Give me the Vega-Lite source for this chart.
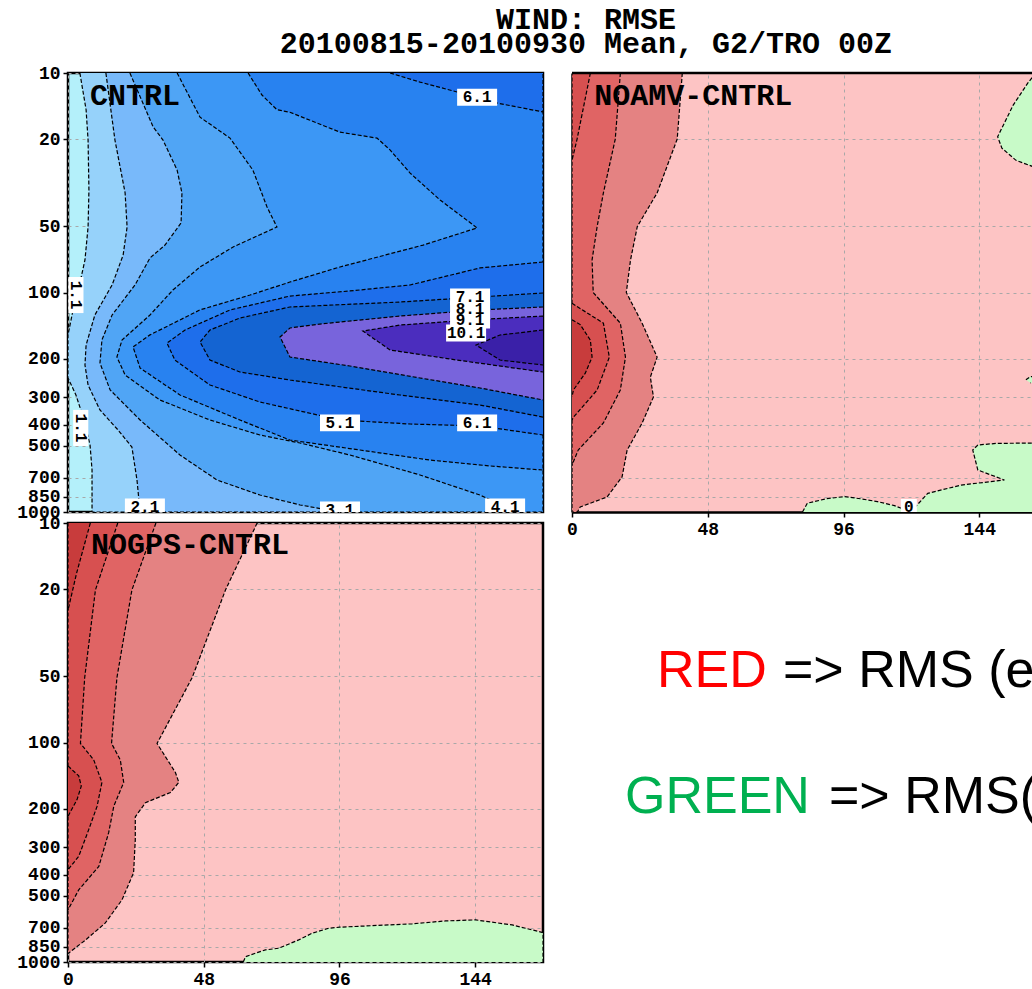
{
"$schema":"https://vega.github.io/schema/vega-lite/v6.json",
"padding":{"left":15,"top":4,"right":0,"bottom":0},
"background":"white",
"title":{"text":["WIND: RMSE","20100815-20100930 Mean, G2/TRO 00Z"],"font":"Liberation Mono","fontWeight":"bold","fontSize":30,"lineHeight":24,"anchor":"middle","color":"black","dx":61,"offset":4},
"config":{
 "axis":{"labelFont":"Liberation Mono","labelFontWeight":"bold","labelFontSize":18,"labelColor":"black","tickColor":"black","tickSize":5,"tickWidth":1.5,"labelPadding":3,"gridColor":"#a8a8a8","gridDash":[3,4],"gridWidth":1,"zindex":1,"labelFlush":false,"labelOverlap":false,"domainColor":"black","domainWidth":2.5}
},
"datasets":{
"cn":[
{"pc":"p01","lev":"1.1","i":0,"h":4.2,"p":10},{"pc":"p01","lev":"1.1","i":1,"h":6.4,"p":14.7},{"pc":"p01","lev":"1.1","i":2,"h":7.1,"p":20.2},{"pc":"p01","lev":"1.1","i":3,"h":7.4,"p":34.1},{"pc":"p01","lev":"1.1","i":4,"h":7.1,"p":50.3},{"pc":"p01","lev":"1.1","i":5,"h":6.0,"p":71.1},{"pc":"p01","lev":"1.1","i":6,"h":4.2,"p":90.5},{"pc":"p01","lev":"1.1","i":7,"h":1.8,"p":120},{"pc":"p01","lev":"1.1","i":8,"h":0,"p":156},{"pc":"p01","lev":"1.1","i":9,"h":0,"p":245},{"pc":"p01","lev":"1.1","i":10,"h":2.8,"p":293},{"pc":"p01","lev":"1.1","i":11,"h":5.7,"p":381},{"pc":"p01","lev":"1.1","i":12,"h":7.8,"p":496},{"pc":"p01","lev":"1.1","i":13,"h":8.5,"p":644},{"pc":"p01","lev":"1.1","i":14,"h":8.5,"p":1000},{"pc":"p01","lev":"1.1","i":15,"h":168,"p":1000},{"pc":"p01","lev":"1.1","i":16,"h":168,"p":10},
{"pc":"p02","lev":"2.1","i":0,"h":13.4,"p":10},{"pc":"p02","lev":"2.1","i":1,"h":16.6,"p":20.2},{"pc":"p02","lev":"2.1","i":2,"h":20.2,"p":35.2},{"pc":"p02","lev":"2.1","i":3,"h":20.9,"p":50.3},{"pc":"p02","lev":"2.1","i":4,"h":19.5,"p":67.5},{"pc":"p02","lev":"2.1","i":5,"h":15.6,"p":92.4},{"pc":"p02","lev":"2.1","i":6,"h":9.5,"p":126.6},{"pc":"p02","lev":"2.1","i":7,"h":6.4,"p":173.5},{"pc":"p02","lev":"2.1","i":8,"h":6.0,"p":214},{"pc":"p02","lev":"2.1","i":9,"h":7.1,"p":264},{"pc":"p02","lev":"2.1","i":10,"h":11.3,"p":343},{"pc":"p02","lev":"2.1","i":11,"h":17.7,"p":423},{"pc":"p02","lev":"2.1","i":12,"h":22.6,"p":506},{"pc":"p02","lev":"2.1","i":13,"h":24.4,"p":715},{"pc":"p02","lev":"2.1","i":14,"h":25.5,"p":1000},{"pc":"p02","lev":"2.1","i":15,"h":168,"p":1000},{"pc":"p02","lev":"2.1","i":16,"h":168,"p":10},
{"pc":"p03","lev":"3.1","i":0,"h":21.9,"p":10},{"pc":"p03","lev":"3.1","i":1,"h":30.1,"p":17.6},{"pc":"p03","lev":"3.1","i":2,"h":33.6,"p":20.2},{"pc":"p03","lev":"3.1","i":3,"h":38.6,"p":27.7},{"pc":"p03","lev":"3.1","i":4,"h":40.3,"p":35.2},{"pc":"p03","lev":"3.1","i":5,"h":40.0,"p":48.2},{"pc":"p03","lev":"3.1","i":6,"h":34.3,"p":60.8},{"pc":"p03","lev":"3.1","i":7,"h":29.0,"p":69.6},{"pc":"p03","lev":"3.1","i":8,"h":23.7,"p":92.4},{"pc":"p03","lev":"3.1","i":9,"h":15.6,"p":126.6},{"pc":"p03","lev":"3.1","i":10,"h":12.0,"p":164.6},{"pc":"p03","lev":"3.1","i":11,"h":11.3,"p":209.6},{"pc":"p03","lev":"3.1","i":12,"h":14.9,"p":278},{"pc":"p03","lev":"3.1","i":13,"h":25.5,"p":381},{"pc":"p03","lev":"3.1","i":14,"h":39.6,"p":550},{"pc":"p03","lev":"3.1","i":15,"h":52.7,"p":715},{"pc":"p03","lev":"3.1","i":16,"h":67.9,"p":837},{"pc":"p03","lev":"3.1","i":17,"h":82.1,"p":929},{"pc":"p03","lev":"3.1","i":18,"h":96.2,"p":1000},{"pc":"p03","lev":"3.1","i":19,"h":168,"p":1000},{"pc":"p03","lev":"3.1","i":20,"h":168,"p":10},
{"pc":"p04","lev":"4.1","i":0,"h":38.6,"p":10},{"pc":"p04","lev":"4.1","i":1,"h":46.7,"p":15.9},{"pc":"p04","lev":"4.1","i":2,"h":57.3,"p":19.8},{"pc":"p04","lev":"4.1","i":3,"h":65.4,"p":27.7},{"pc":"p04","lev":"4.1","i":4,"h":70.4,"p":40.8},{"pc":"p04","lev":"4.1","i":5,"h":73.9,"p":50.3},{"pc":"p04","lev":"4.1","i":6,"h":58.4,"p":62},{"pc":"p04","lev":"4.1","i":7,"h":46.7,"p":76.5},{"pc":"p04","lev":"4.1","i":8,"h":37.1,"p":97.4},{"pc":"p04","lev":"4.1","i":9,"h":29.0,"p":126.6},{"pc":"p04","lev":"4.1","i":10,"h":19.1,"p":164.6},{"pc":"p04","lev":"4.1","i":11,"h":17.3,"p":196.8},{"pc":"p04","lev":"4.1","i":12,"h":20.2,"p":237.6},{"pc":"p04","lev":"4.1","i":13,"h":32.5,"p":308.8},{"pc":"p04","lev":"4.1","i":14,"h":50.2,"p":381},{"pc":"p04","lev":"4.1","i":15,"h":67.9,"p":446},{"pc":"p04","lev":"4.1","i":16,"h":82.1,"p":485},{"pc":"p04","lev":"4.1","i":17,"h":99.7,"p":550},{"pc":"p04","lev":"4.1","i":18,"h":124.5,"p":678},{"pc":"p04","lev":"4.1","i":19,"h":145.7,"p":837},{"pc":"p04","lev":"4.1","i":20,"h":154.9,"p":949},{"pc":"p04","lev":"4.1","i":21,"h":159.9,"p":1000},{"pc":"p04","lev":"4.1","i":22,"h":168,"p":1000},{"pc":"p04","lev":"4.1","i":23,"h":168,"p":10},
{"pc":"p05","lev":"5.1","i":0,"h":63.7,"p":10},{"pc":"p05","lev":"5.1","i":1,"h":68.6,"p":12.6},{"pc":"p05","lev":"5.1","i":2,"h":73.9,"p":14.7},{"pc":"p05","lev":"5.1","i":3,"h":78.5,"p":15.1},{"pc":"p05","lev":"5.1","i":4,"h":96.2,"p":18.6},{"pc":"p05","lev":"5.1","i":5,"h":109.3,"p":19.8},{"pc":"p05","lev":"5.1","i":6,"h":113.9,"p":22.4},{"pc":"p05","lev":"5.1","i":7,"h":121.0,"p":28.6},{"pc":"p05","lev":"5.1","i":8,"h":131.6,"p":37.9},{"pc":"p05","lev":"5.1","i":9,"h":144.7,"p":50.8},{"pc":"p05","lev":"5.1","i":10,"h":125.6,"p":60.8},{"pc":"p05","lev":"5.1","i":11,"h":96.2,"p":76.5},{"pc":"p05","lev":"5.1","i":12,"h":78.5,"p":89.6},{"pc":"p05","lev":"5.1","i":13,"h":64.4,"p":102.7},{"pc":"p05","lev":"5.1","i":14,"h":46.7,"p":120},{"pc":"p05","lev":"5.1","i":15,"h":29.0,"p":156},{"pc":"p05","lev":"5.1","i":16,"h":23.0,"p":177},{"pc":"p05","lev":"5.1","i":17,"h":25.5,"p":221},{"pc":"p05","lev":"5.1","i":18,"h":39.6,"p":293},{"pc":"p05","lev":"5.1","i":19,"h":60.8,"p":381},{"pc":"p05","lev":"5.1","i":20,"h":78.5,"p":470},{"pc":"p05","lev":"5.1","i":21,"h":103.3,"p":522},{"pc":"p05","lev":"5.1","i":22,"h":128.0,"p":580},{"pc":"p05","lev":"5.1","i":23,"h":149.3,"p":617},{"pc":"p05","lev":"5.1","i":24,"h":168,"p":644},{"pc":"p05","lev":"5.1","i":25,"h":168,"p":10},
{"pc":"p06","lev":"6.1","i":0,"h":113.9,"p":10},{"pc":"p06","lev":"6.1","i":1,"h":124.5,"p":11.0},{"pc":"p06","lev":"6.1","i":2,"h":137.6,"p":12.2},{"pc":"p06","lev":"6.1","i":3,"h":151.7,"p":13.7},{"pc":"p06","lev":"6.1","i":4,"h":168,"p":15.05},{"pc":"p06","lev":"6.1","i":5,"h":168,"p":10},
{"pc":"p07","lev":"6.1","i":0,"h":168,"p":72.6},{"pc":"p07","lev":"6.1","i":1,"h":145.7,"p":77.3},{"pc":"p07","lev":"6.1","i":2,"h":121.0,"p":92.4},{"pc":"p07","lev":"6.1","i":3,"h":99.7,"p":98.4},{"pc":"p07","lev":"6.1","i":4,"h":78.5,"p":103.8},{"pc":"p07","lev":"6.1","i":5,"h":57.3,"p":120.1},{"pc":"p07","lev":"6.1","i":6,"h":41.4,"p":148.2},{"pc":"p07","lev":"6.1","i":7,"h":35.0,"p":169.9},{"pc":"p07","lev":"6.1","i":8,"h":37.8,"p":203.1},{"pc":"p07","lev":"6.1","i":9,"h":50.2,"p":263.9},{"pc":"p07","lev":"6.1","i":10,"h":67.9,"p":315.4},{"pc":"p07","lev":"6.1","i":11,"h":96.2,"p":381},{"pc":"p07","lev":"6.1","i":12,"h":121.0,"p":397.3},{"pc":"p07","lev":"6.1","i":13,"h":145.7,"p":405.7},{"pc":"p07","lev":"6.1","i":14,"h":168,"p":445.9},
{"pc":"p08","lev":"7.1","i":0,"h":168,"p":100.5},{"pc":"p08","lev":"7.1","i":1,"h":145.7,"p":104.8},{"pc":"p08","lev":"7.1","i":2,"h":117.4,"p":110.5},{"pc":"p08","lev":"7.1","i":3,"h":78.5,"p":116.4},{"pc":"p08","lev":"7.1","i":4,"h":60.8,"p":130.7},{"pc":"p08","lev":"7.1","i":5,"h":50.2,"p":148.2},{"pc":"p08","lev":"7.1","i":6,"h":46.7,"p":168.1},{"pc":"p08","lev":"7.1","i":7,"h":50.2,"p":203.1},{"pc":"p08","lev":"7.1","i":8,"h":60.8,"p":230.3},{"pc":"p08","lev":"7.1","i":9,"h":78.5,"p":250.4},{"pc":"p08","lev":"7.1","i":10,"h":117.4,"p":293.1},{"pc":"p08","lev":"7.1","i":11,"h":145.7,"p":325.5},{"pc":"p08","lev":"7.1","i":12,"h":168,"p":369.3},
{"pc":"p09","lev":"8.1","i":0,"h":168,"p":116.4},{"pc":"p09","lev":"8.1","i":1,"h":145.7,"p":120.1},{"pc":"p09","lev":"8.1","i":2,"h":117.4,"p":128},{"pc":"p09","lev":"8.1","i":3,"h":89.1,"p":139.2},{"pc":"p09","lev":"8.1","i":4,"h":78.5,"p":145.1},{"pc":"p09","lev":"8.1","i":5,"h":75.0,"p":159.5},{"pc":"p09","lev":"8.1","i":6,"h":78.5,"p":196.8},{"pc":"p09","lev":"8.1","i":7,"h":99.7,"p":216.2},{"pc":"p09","lev":"8.1","i":8,"h":124.5,"p":245.2},{"pc":"p09","lev":"8.1","i":9,"h":145.7,"p":272.3},{"pc":"p09","lev":"8.1","i":10,"h":168,"p":308.8},
{"pc":"p10","lev":"9.1","i":0,"h":168,"p":128},{"pc":"p10","lev":"9.1","i":1,"h":142.2,"p":133.5},{"pc":"p10","lev":"9.1","i":2,"h":117.4,"p":140.7},{"pc":"p10","lev":"9.1","i":3,"h":104.3,"p":149.8},{"pc":"p10","lev":"9.1","i":4,"h":113.9,"p":182.8},{"pc":"p10","lev":"9.1","i":5,"h":137.6,"p":203.1},{"pc":"p10","lev":"9.1","i":6,"h":168,"p":230.3},
{"pc":"p11","lev":"10.1","i":0,"h":168,"p":148.2},{"pc":"p11","lev":"10.1","i":1,"h":152.8,"p":156.2},{"pc":"p11","lev":"10.1","i":2,"h":144.3,"p":173.5},{"pc":"p11","lev":"10.1","i":3,"h":152.8,"p":203.1},{"pc":"p11","lev":"10.1","i":4,"h":168,"p":214}
],
"cnl":[
{"h":144.7,"p":12.9,"t":"6.1"},{"h":142.2,"p":104.8,"t":"7.1"},{"h":142.2,"p":118.9,"t":"8.1"},{"h":142.2,"p":133.5,"t":"9.1"},{"h":140.8,"p":152.9,"t":"10.1"},{"h":96.2,"p":393,"t":"5.1"},{"h":144.7,"p":393,"t":"6.1"},{"h":27.2,"p":949,"t":"2.1"},{"h":96.2,"p":979,"t":"3.1"},{"h":154.6,"p":949,"t":"4.1"}
],
"cnv":[
{"h":2.8,"p":102.7,"t":"1.1"},{"h":4.5,"p":414,"t":"1.1"}
],
"na":[
{"pc":"q1","lev":"1","i":0,"h":39.0,"p":10},{"pc":"q1","lev":"1","i":1,"h":37.2,"p":20},{"pc":"q1","lev":"1","i":2,"h":30.1,"p":35.2},{"pc":"q1","lev":"1","i":3,"h":23.1,"p":50},{"pc":"q1","lev":"1","i":4,"h":20.7,"p":71},{"pc":"q1","lev":"1","i":5,"h":19.2,"p":100},{"pc":"q1","lev":"1","i":6,"h":24.8,"p":138},{"pc":"q1","lev":"1","i":7,"h":30.1,"p":197},{"pc":"q1","lev":"1","i":8,"h":27.7,"p":243},{"pc":"q1","lev":"1","i":9,"h":28.8,"p":299},{"pc":"q1","lev":"1","i":10,"h":24.8,"p":393},{"pc":"q1","lev":"1","i":11,"h":19.5,"p":522},{"pc":"q1","lev":"1","i":12,"h":17.7,"p":692},{"pc":"q1","lev":"1","i":13,"h":12.4,"p":854},{"pc":"q1","lev":"1","i":14,"h":2.9,"p":949},{"pc":"q1","lev":"1","i":15,"h":1.9,"p":1000},{"pc":"q1","lev":"1","i":16,"h":0,"p":1000},{"pc":"q1","lev":"1","i":17,"h":0,"p":10},
{"pc":"q2","lev":"2","i":0,"h":17.1,"p":10},{"pc":"q2","lev":"2","i":1,"h":15.3,"p":20},{"pc":"q2","lev":"2","i":2,"h":11.1,"p":35.2},{"pc":"q2","lev":"2","i":3,"h":8.9,"p":50},{"pc":"q2","lev":"2","i":4,"h":7.1,"p":71},{"pc":"q2","lev":"2","i":5,"h":7.5,"p":100},{"pc":"q2","lev":"2","i":6,"h":17.1,"p":138},{"pc":"q2","lev":"2","i":7,"h":18.9,"p":197},{"pc":"q2","lev":"2","i":8,"h":17.1,"p":278},{"pc":"q2","lev":"2","i":9,"h":11.1,"p":393},{"pc":"q2","lev":"2","i":10,"h":2.2,"p":522},{"pc":"q2","lev":"2","i":11,"h":0,"p":611},{"pc":"q2","lev":"2","i":12,"h":0,"p":10},
{"pc":"q3","lev":"3","i":0,"h":6.5,"p":10},{"pc":"q3","lev":"3","i":1,"h":1.8,"p":20},{"pc":"q3","lev":"3","i":2,"h":0,"p":25},{"pc":"q3","lev":"3","i":3,"h":0,"p":10},
{"pc":"q4","lev":"3","i":0,"h":0,"p":112},{"pc":"q4","lev":"3","i":1,"h":11.1,"p":138},{"pc":"q4","lev":"3","i":2,"h":13.2,"p":197},{"pc":"q4","lev":"3","i":3,"h":8.9,"p":278},{"pc":"q4","lev":"3","i":4,"h":0.5,"p":370},{"pc":"q4","lev":"3","i":5,"h":0,"p":381},
{"pc":"q5","lev":"4","i":0,"h":0,"p":133},{"pc":"q5","lev":"4","i":1,"h":2.9,"p":140},{"pc":"q5","lev":"4","i":2,"h":6.5,"p":165},{"pc":"q5","lev":"4","i":3,"h":7.1,"p":197},{"pc":"q5","lev":"4","i":4,"h":4.7,"p":233},{"pc":"q5","lev":"4","i":5,"h":0.5,"p":278},{"pc":"q5","lev":"4","i":6,"h":0,"p":299},
{"pc":"q6","lev":"g","i":0,"h":164,"p":10},{"pc":"q6","lev":"g","i":1,"h":161.2,"p":11.1},{"pc":"q6","lev":"g","i":2,"h":156,"p":14},{"pc":"q6","lev":"g","i":3,"h":150.5,"p":19.5},{"pc":"q6","lev":"g","i":4,"h":152,"p":22},{"pc":"q6","lev":"g","i":5,"h":157,"p":25},{"pc":"q6","lev":"g","i":6,"h":163,"p":26.7},{"pc":"q6","lev":"g","i":7,"h":168,"p":28},{"pc":"q6","lev":"g","i":8,"h":168,"p":10},
{"pc":"q7","lev":"g","i":0,"h":81.5,"p":1000},{"pc":"q7","lev":"g","i":1,"h":83.2,"p":912},{"pc":"q7","lev":"g","i":2,"h":90,"p":870},{"pc":"q7","lev":"g","i":3,"h":96.2,"p":851},{"pc":"q7","lev":"g","i":4,"h":102,"p":870},{"pc":"q7","lev":"g","i":5,"h":108,"p":897},{"pc":"q7","lev":"g","i":6,"h":114,"p":935},{"pc":"q7","lev":"g","i":7,"h":118.5,"p":985},{"pc":"q7","lev":"g","i":8,"h":121,"p":960},{"pc":"q7","lev":"g","i":9,"h":125.8,"p":822},{"pc":"q7","lev":"g","i":10,"h":137.6,"p":754},{"pc":"q7","lev":"g","i":11,"h":152.9,"p":715},{"pc":"q7","lev":"g","i":12,"h":143.5,"p":644},{"pc":"q7","lev":"g","i":13,"h":141.7,"p":522},{"pc":"q7","lev":"g","i":14,"h":143.5,"p":495},{"pc":"q7","lev":"g","i":15,"h":150,"p":487},{"pc":"q7","lev":"g","i":16,"h":163,"p":485},{"pc":"q7","lev":"g","i":17,"h":168,"p":485},{"pc":"q7","lev":"g","i":18,"h":168,"p":1000},
{"pc":"q8","lev":"g","i":0,"h":160.5,"p":250},{"pc":"q8","lev":"g","i":1,"h":162,"p":242},{"pc":"q8","lev":"g","i":2,"h":168,"p":238},{"pc":"q8","lev":"g","i":3,"h":168,"p":262},{"pc":"q8","lev":"g","i":4,"h":162,"p":258}
],
"ng":[
{"pc":"r1","lev":"1","i":0,"h":66.9,"p":10},{"pc":"r1","lev":"1","i":1,"h":55.7,"p":20.2},{"pc":"r1","lev":"1","i":2,"h":43.9,"p":50.7},{"pc":"r1","lev":"1","i":3,"h":31.5,"p":101},{"pc":"r1","lev":"1","i":4,"h":38.0,"p":137},{"pc":"r1","lev":"1","i":5,"h":39.2,"p":152},{"pc":"r1","lev":"1","i":6,"h":36.2,"p":169},{"pc":"r1","lev":"1","i":7,"h":27.4,"p":188},{"pc":"r1","lev":"1","i":8,"h":23.8,"p":218},{"pc":"r1","lev":"1","i":9,"h":23.8,"p":277},{"pc":"r1","lev":"1","i":10,"h":23.2,"p":392},{"pc":"r1","lev":"1","i":11,"h":19.1,"p":521},{"pc":"r1","lev":"1","i":12,"h":13.2,"p":664},{"pc":"r1","lev":"1","i":13,"h":6.2,"p":794},{"pc":"r1","lev":"1","i":14,"h":0,"p":915},{"pc":"r1","lev":"1","i":15,"h":0,"p":10},
{"pc":"r2","lev":"2","i":0,"h":31.1,"p":10},{"pc":"r2","lev":"2","i":1,"h":22.6,"p":20.2},{"pc":"r2","lev":"2","i":2,"h":17.3,"p":50.7},{"pc":"r2","lev":"2","i":3,"h":15.4,"p":101},{"pc":"r2","lev":"2","i":4,"h":18.5,"p":120},{"pc":"r2","lev":"2","i":5,"h":19.7,"p":152},{"pc":"r2","lev":"2","i":6,"h":16.2,"p":195},{"pc":"r2","lev":"2","i":7,"h":14.4,"p":257},{"pc":"r2","lev":"2","i":8,"h":10.9,"p":367},{"pc":"r2","lev":"2","i":9,"h":3.8,"p":469},{"pc":"r2","lev":"2","i":10,"h":0,"p":579},{"pc":"r2","lev":"2","i":11,"h":0,"p":10},
{"pc":"r3","lev":"3","i":0,"h":17.6,"p":10},{"pc":"r3","lev":"3","i":1,"h":9.7,"p":20.2},{"pc":"r3","lev":"3","i":2,"h":5.9,"p":50.7},{"pc":"r3","lev":"3","i":3,"h":4.4,"p":101},{"pc":"r3","lev":"3","i":4,"h":9.1,"p":120},{"pc":"r3","lev":"3","i":5,"h":12.0,"p":152},{"pc":"r3","lev":"3","i":6,"h":10.3,"p":195},{"pc":"r3","lev":"3","i":7,"h":7.3,"p":250},{"pc":"r3","lev":"3","i":8,"h":3.8,"p":330},{"pc":"r3","lev":"3","i":9,"h":0,"p":380},{"pc":"r3","lev":"3","i":10,"h":0,"p":10},
{"pc":"r4","lev":"4","i":0,"h":7.9,"p":10},{"pc":"r4","lev":"4","i":1,"h":3.0,"p":17},{"pc":"r4","lev":"4","i":2,"h":0,"p":25},{"pc":"r4","lev":"4","i":3,"h":0,"p":10},
{"pc":"r5","lev":"4","i":0,"h":0,"p":128},{"pc":"r5","lev":"4","i":1,"h":3.8,"p":142},{"pc":"r5","lev":"4","i":2,"h":4.7,"p":158},{"pc":"r5","lev":"4","i":3,"h":3.2,"p":182},{"pc":"r5","lev":"4","i":4,"h":0,"p":217},
{"pc":"r6","lev":"g","i":0,"h":62,"p":1000},{"pc":"r6","lev":"g","i":1,"h":62.8,"p":946},{"pc":"r6","lev":"g","i":2,"h":66,"p":915},{"pc":"r6","lev":"g","i":3,"h":69.8,"p":881},{"pc":"r6","lev":"g","i":4,"h":74.6,"p":865},{"pc":"r6","lev":"g","i":5,"h":81.6,"p":793},{"pc":"r6","lev":"g","i":6,"h":86.3,"p":740},{"pc":"r6","lev":"g","i":7,"h":92.2,"p":702},{"pc":"r6","lev":"g","i":8,"h":96.1,"p":694},{"pc":"r6","lev":"g","i":9,"h":121.7,"p":670},{"pc":"r6","lev":"g","i":10,"h":133.5,"p":650},{"pc":"r6","lev":"g","i":11,"h":144.2,"p":643},{"pc":"r6","lev":"g","i":12,"h":157.1,"p":678},{"pc":"r6","lev":"g","i":13,"h":166.6,"p":727},{"pc":"r6","lev":"g","i":14,"h":168,"p":735},{"pc":"r6","lev":"g","i":15,"h":168,"p":1000}
],
"tx":[
{"x":85,"y":164,"t":"RED","c":"r"},{"x":211,"y":164,"t":"=> RMS (exp) > RMS (cntrl)","c":"k"},{"x":53,"y":290,"t":"GREEN","c":"g"},{"x":257,"y":290,"t":"=> RMS(exp) < RMS(cntrl)","c":"k"}
]
},
"columns":2,
"spacing":{"row":11,"column":29},
"bounds":"flush",
"resolve":{"scale":{"fill":"independent","color":"independent"}},
"concat":[
 {"width":475,"height":439,
  "view":{"fill":"#b4f0fa","stroke":"black","strokeWidth":2.5},
  "encoding":{
   "x":{"field":"h","type":"quantitative","scale":{"domain":[0,168],"nice":false,"zero":false},"axis":{"values":[0,48,96,144],"labels":false,"ticks":false,"domain":false,"title":null}},
   "y":{"field":"p","type":"quantitative","scale":{"type":"log","domain":[10,1000],"reverse":true,"nice":false},"axis":{"values":[10,20,50,100,200,300,400,500,700,850,1000],"format":"d","domain":false,"title":null}}
  },
  "layer":[
   {"data":{"name":"cn"},"mark":{"type":"line","stroke":"black","strokeWidth":1.2,"strokeDash":[4,2],"clip":true},
    "encoding":{"fill":{"field":"lev","type":"nominal","scale":{"domain":["1.1","2.1","3.1","4.1","5.1","6.1","7.1","8.1","9.1","10.1"],"range":["#96d2fa","#78b9fa","#50a5f5","#3c97f5","#2882f0","#1e6eeb","#1464d2","#7864dc","#4b2dbe","#3a20a8"]},"legend":null},"detail":{"field":"pc","type":"nominal"},"order":{"field":"i","type":"quantitative"}}},
   {"data":{"name":"cnl"},"mark":{"type":"point","shape":"M-1,-0.42H1V0.42H-1Z","size":1600,"filled":true,"color":"white","opacity":1,"clip":true}},
   {"data":{"name":"cnl"},"mark":{"type":"text","font":"Liberation Mono","fontWeight":"bold","fontSize":16,"color":"black","clip":true},"encoding":{"text":{"field":"t","type":"nominal"}}},
   {"data":{"name":"cnv"},"mark":{"type":"point","shape":"M-0.42,-1H0.42V1H-0.42Z","size":1300,"filled":true,"color":"white","opacity":1,"clip":true}},
   {"data":{"name":"cnv"},"mark":{"type":"text","angle":90,"font":"Liberation Mono","fontWeight":"bold","fontSize":16,"color":"black","clip":true},"encoding":{"text":{"field":"t","type":"nominal"}}},
   {"data":{"values":[{"h":7.8,"p":14.0,"t":"CNTRL"}]},"mark":{"type":"text","font":"Liberation Mono","fontWeight":"bold","fontSize":30,"align":"left","baseline":"alphabetic","color":"black"},"encoding":{"text":{"field":"t","type":"nominal"}}}
  ]},
 {"width":461,"height":439,
  "view":{"fill":"#fdc4c4","stroke":null},
  "encoding":{
   "x":{"field":"h","type":"quantitative","scale":{"domain":[0,163],"nice":false,"zero":false},"axis":{"values":[0,48,96,144],"title":null,"domain":true}},
   "y":{"field":"p","type":"quantitative","scale":{"type":"log","domain":[10,1000],"reverse":true,"nice":false},"axis":{"values":[20,50,100,200,300,400,500,700,850],"labels":false,"ticks":false,"domain":true,"title":null}}
  },
  "layer":[
   {"data":{"name":"na"},"mark":{"type":"line","stroke":"black","strokeWidth":1.2,"strokeDash":[4,2],"clip":true},
    "encoding":{"fill":{"field":"lev","type":"nominal","scale":{"domain":["1","2","3","4","g"],"range":["#e48282","#e06464","#d75050","#c83c3c","#c8fac8"]},"legend":null},"detail":{"field":"pc","type":"nominal"},"order":{"field":"i","type":"quantitative"}}},
   {"data":{"values":[{"h":119.1,"p":949,"t":"0"}]},"mark":{"type":"point","shape":"M-1,-1H1V1H-1Z","size":256,"filled":true,"color":"white","opacity":1,"clip":true}},
   {"data":{"values":[{"h":119.1,"p":949,"t":"0"}]},"mark":{"type":"text","font":"Liberation Mono","fontWeight":"bold","fontSize":16,"color":"black","clip":true},"encoding":{"text":{"field":"t","type":"nominal"}}},
   {"data":{"values":[{"p":10}]},"mark":{"type":"rule","stroke":"black","strokeWidth":2.5},"encoding":{"y":{"field":"p","type":"quantitative"},"x":null}},
   {"data":{"values":[{"h":7.9,"p":14.0,"t":"NOAMV-CNTRL"}]},"mark":{"type":"text","font":"Liberation Mono","fontWeight":"bold","fontSize":30,"align":"left","baseline":"alphabetic","color":"black"},"encoding":{"text":{"field":"t","type":"nominal"}}}
  ]},
 {"width":475,"height":439,
  "view":{"fill":"#fdc4c4","stroke":"black","strokeWidth":2.5},
  "encoding":{
   "x":{"field":"h","type":"quantitative","scale":{"domain":[0,168],"nice":false,"zero":false},"axis":{"values":[0,48,96,144],"domain":false,"title":null}},
   "y":{"field":"p","type":"quantitative","scale":{"type":"log","domain":[10,1000],"reverse":true,"nice":false},"axis":{"values":[10,20,50,100,200,300,400,500,700,850,1000],"format":"d","domain":false,"title":null}}
  },
  "layer":[
   {"data":{"name":"ng"},"mark":{"type":"line","stroke":"black","strokeWidth":1.2,"strokeDash":[4,2],"clip":true},
    "encoding":{"fill":{"field":"lev","type":"nominal","scale":{"domain":["1","2","3","4","g"],"range":["#e48282","#e06464","#d75050","#c83c3c","#c8fac8"]},"legend":null},"detail":{"field":"pc","type":"nominal"},"order":{"field":"i","type":"quantitative"}}},
   {"data":{"values":[{"h":8.1,"p":13.9,"t":"NOGPS-CNTRL"}]},"mark":{"type":"text","font":"Liberation Mono","fontWeight":"bold","fontSize":30,"align":"left","baseline":"alphabetic","color":"black"},"encoding":{"text":{"field":"t","type":"nominal"}}}
  ]},
 {"width":461,"height":439,
  "view":{"stroke":null},
  "data":{"name":"tx"},
  "mark":{"type":"text","font":"Liberation Sans","fontSize":52,"align":"left","baseline":"alphabetic","clip":true},
  "encoding":{
   "x":{"field":"x","type":"quantitative","scale":{"domain":[0,461],"nice":false,"zero":false},"axis":null},
   "y":{"field":"y","type":"quantitative","scale":{"domain":[0,439],"reverse":true,"nice":false,"zero":false},"axis":null},
   "color":{"field":"c","type":"nominal","scale":{"domain":["r","g","k"],"range":["#ff0000","#00b050","#000000"]},"legend":null},
   "text":{"field":"t","type":"nominal"}
  }}
]
}
